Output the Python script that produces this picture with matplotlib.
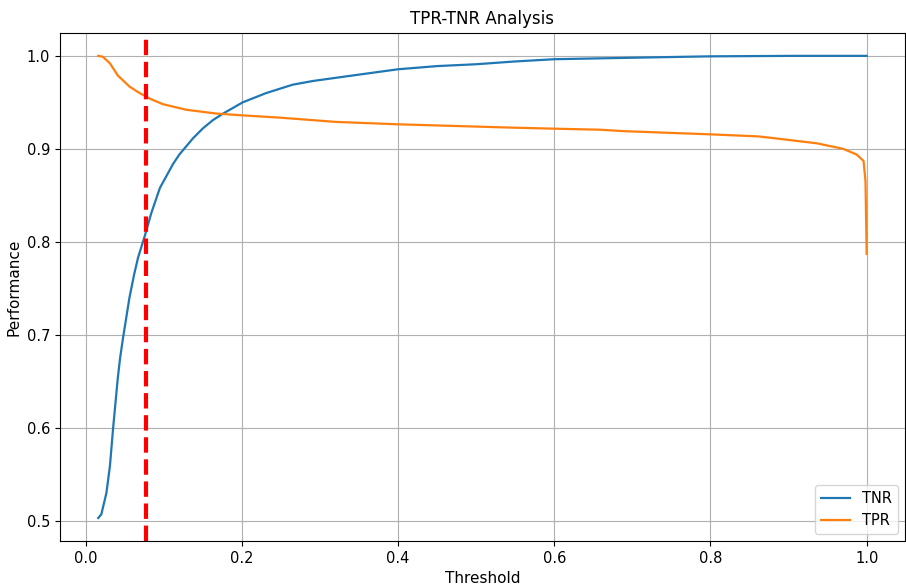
import matplotlib
matplotlib.use("Agg")
import matplotlib.pyplot as plt

# values
tnr_thresholds = [0.016, 0.020, 0.0265, 0.031, 0.035, 0.041, 0.044, 0.048, 0.056, 0.062,
                  0.067, 0.0755, 0.084, 0.095, 0.112, 0.120, 0.137, 0.150, 0.163, 0.176,
                  0.201, 0.231, 0.265, 0.291, 0.334, 0.40, 0.45, 0.50, 0.55, 0.60,
                  0.70, 0.80, 0.90, 1.0]
tnr = [0.503, 0.507, 0.530, 0.559, 0.599, 0.653, 0.675, 0.698, 0.740, 0.765,
       0.783, 0.806, 0.831, 0.858, 0.884, 0.894, 0.911, 0.922, 0.931, 0.938,
       0.950, 0.960, 0.969, 0.973, 0.978, 0.9856, 0.989, 0.991, 0.994, 0.9964,
       0.998, 0.9995, 1.0, 1.0]

tpr_thresholds = [0.016, 0.022, 0.031, 0.041, 0.056, 0.069, 0.082, 0.099, 0.129, 0.167,
                  0.201, 0.248, 0.32, 0.40, 0.547, 0.60, 0.658, 0.69, 0.80, 0.861,
                  0.876, 0.936, 0.970, 0.987, 0.996, 0.9985, 1.0]
tpr = [1.0, 0.999, 0.992, 0.979, 0.967, 0.960, 0.954, 0.948, 0.942, 0.938,
       0.936, 0.9336, 0.929, 0.9264, 0.9228, 0.9217, 0.9206, 0.919, 0.9156, 0.9134,
       0.912, 0.906, 0.900, 0.894, 0.887, 0.865, 0.787]

best_threshold = 0.077

fig = plt.figure(figsize=(9.06, 5.85), dpi=100)
plt.subplots_adjust(left=0.066, right=0.999, top=0.944, bottom=0.075)

plt.plot(tnr_thresholds, tnr, label='TNR', color='#1f77b4', linewidth=1.6)
plt.plot(tpr_thresholds, tpr, label='TPR', color='#ff7f0e', linewidth=1.6)
plt.axvline(best_threshold, color='red', linestyle='--', linewidth=3)

plt.title('TPR-TNR Analysis', fontsize=12)
plt.xlabel('Threshold', fontsize=11)
plt.ylabel('Performance', fontsize=11)
plt.xticks(fontsize=10.5)
plt.yticks(fontsize=10.5)
plt.grid(True)
plt.legend(loc='lower right', fontsize=10.5)
plt.savefig('out.png', dpi=100)
